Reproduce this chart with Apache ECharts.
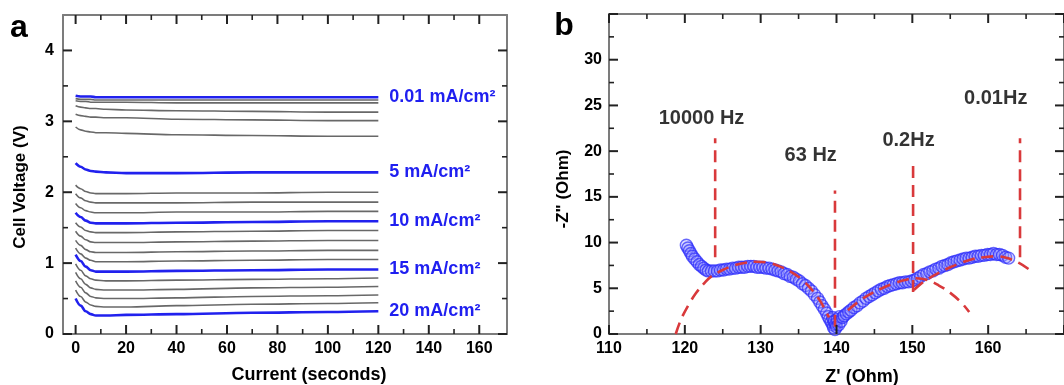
<!DOCTYPE html>
<html><head><meta charset="utf-8">
<script src="https://cdn.jsdelivr.net/npm/echarts@6/dist/echarts.min.js"></script>
<style>html,body{margin:0;padding:0;background:#fff}#c{width:1064px;height:385px}</style>
</head><body><div id="c"></div>
<script>
// ---------- Panel a data ----------
const timeS = [0, 2, 4, 6, 8, 12, 20, 40, 70, 100, 120];
const blue001 = [3.36, 3.35, 3.35, 3.35, 3.34, 3.34, 3.34, 3.34, 3.34, 3.34, 3.34];
const gray330 = [3.32, 3.31, 3.31, 3.31, 3.30, 3.30, 3.30, 3.30, 3.30, 3.30, 3.30];
const gray326 = [3.29, 3.28, 3.28, 3.27, 3.27, 3.27, 3.27, 3.26, 3.26, 3.26, 3.26];
const gray313 = [3.22, 3.20, 3.19, 3.18, 3.18, 3.17, 3.16, 3.15, 3.14, 3.13, 3.13];
const gray301 = [3.10, 3.08, 3.07, 3.06, 3.06, 3.05, 3.05, 3.03, 3.02, 3.01, 3.01];
const gray279 = [2.92, 2.88, 2.86, 2.85, 2.84, 2.84, 2.83, 2.81, 2.80, 2.79, 2.79];
const blue5   = [2.41, 2.36, 2.32, 2.30, 2.29, 2.28, 2.27, 2.27, 2.28, 2.28, 2.28];
const gray200 = [2.10, 2.05, 2.01, 1.99, 1.98, 1.98, 1.98, 1.99, 1.99, 2.00, 2.00];
const gray186 = [1.98, 1.92, 1.88, 1.86, 1.85, 1.85, 1.85, 1.85, 1.86, 1.86, 1.86];
const gray173 = [1.84, 1.78, 1.74, 1.72, 1.71, 1.71, 1.71, 1.72, 1.72, 1.73, 1.73];
const blue10  = [1.71, 1.65, 1.60, 1.57, 1.56, 1.56, 1.56, 1.57, 1.58, 1.59, 1.59];
const gray146 = [1.57, 1.51, 1.46, 1.44, 1.43, 1.43, 1.43, 1.44, 1.45, 1.46, 1.46];
const gray132 = [1.45, 1.38, 1.33, 1.30, 1.29, 1.29, 1.29, 1.30, 1.31, 1.32, 1.32];
const gray118 = [1.32, 1.25, 1.19, 1.16, 1.15, 1.15, 1.15, 1.16, 1.17, 1.18, 1.18];
const gray105 = [1.21, 1.13, 1.07, 1.04, 1.02, 1.02, 1.02, 1.03, 1.04, 1.05, 1.05];
const blue15  = [1.12, 1.03, 0.95, 0.90, 0.88, 0.88, 0.88, 0.89, 0.90, 0.91, 0.91];
const gray079 = [0.99, 0.90, 0.82, 0.78, 0.76, 0.75, 0.75, 0.76, 0.77, 0.78, 0.79];
const gray067 = [0.87, 0.78, 0.70, 0.65, 0.63, 0.62, 0.62, 0.63, 0.65, 0.66, 0.67];
const gray055 = [0.75, 0.66, 0.58, 0.53, 0.51, 0.50, 0.50, 0.51, 0.53, 0.54, 0.55];
const gray044 = [0.62, 0.53, 0.45, 0.41, 0.39, 0.38, 0.38, 0.40, 0.42, 0.43, 0.44];
const blue20  = [0.50, 0.40, 0.32, 0.28, 0.26, 0.26, 0.27, 0.28, 0.30, 0.31, 0.32];
const blueLabels = ['0.01 mA/cm²', '5 mA/cm²', '10 mA/cm²', '15 mA/cm²', '20 mA/cm²'];
const xMajorA = [0, 20, 40, 60, 80, 100, 120, 140, 160];
const xMinorA = [10, 30, 50, 70, 90, 110, 130, 150];
const yMajorA = [0, 1, 2, 3, 4];
const yMinorA = [0.5, 1.5, 2.5, 3.5];

// ---------- Panel b data ----------
const nyquist = [
  [120.2,9.7],[120.4,9.4],[120.6,9.1],[120.8,8.8],[121.0,8.5],[121.3,8.2],[121.6,7.9],[121.9,7.6],
  [122.2,7.4],[122.5,7.2],[122.8,7.0],[123.1,6.9],[123.5,6.9],[123.9,6.9],[124.3,6.9],[124.7,7.0],
  [125.1,7.0],[125.5,7.1],[125.9,7.1],[126.3,7.2],[126.7,7.2],[127.1,7.3],[127.5,7.3],[127.9,7.3],
  [128.3,7.4],[128.7,7.4],[129.1,7.4],[129.5,7.3],[129.9,7.3],[130.3,7.3],[130.7,7.2],[131.1,7.2],
  [131.5,7.1],[131.9,7.0],[132.3,6.9],[132.7,6.8],[133.1,6.6],[133.5,6.5],[133.9,6.3],[134.3,6.2],
  [134.7,6.0],[135.1,5.8],[135.5,5.5],[135.9,5.3],[136.3,5.0],[136.7,4.7],[137.1,4.3],[137.5,3.9],
  [137.8,3.5],[138.1,3.1],[138.4,2.7],[138.7,2.3],[138.9,1.9],[139.1,1.6],[139.3,1.3],[139.5,1.0],
  [139.6,0.7],[139.8,0.5],[139.5,1.8],[139.7,1.4],[139.9,1.1],[140.0,0.8],[140.1,1.6],[140.3,1.0],
  [140.4,1.9],[140.6,1.4],[140.8,1.8],[141.0,2.0],[141.3,2.2],[141.6,2.4],[141.9,2.6],[142.3,2.9],
  [142.7,3.1],[143.1,3.4],[143.5,3.6],[143.9,3.9],[144.3,4.1],[144.7,4.3],[145.1,4.5],[145.5,4.7],
  [145.9,4.9],[146.3,5.0],[146.7,5.2],[147.1,5.3],[147.5,5.4],[147.9,5.5],[148.3,5.6],[148.7,5.6],
  [149.1,5.7],[149.5,5.7],[149.9,5.8],[150.3,5.9],[150.7,6.1],[151.1,6.3],[151.5,6.5],[151.9,6.6],
  [152.3,6.8],[152.7,6.9],[153.1,7.1],[153.5,7.2],[153.9,7.4],[154.3,7.5],[154.7,7.6],[155.1,7.8],
  [155.5,7.9],[155.9,8.0],[156.3,8.1],[156.7,8.2],[157.1,8.3],[157.5,8.3],[157.9,8.4],[158.3,8.5],
  [158.7,8.5],[159.1,8.6],[159.5,8.6],[159.9,8.7],[160.3,8.7],[160.7,8.8],[161.1,8.7],[161.5,8.7],
  [161.9,8.6],[162.3,8.4],[162.7,8.3]
];
const fit1X = [118.8,119.5,120.5,121.5,122.5,123.5,125.0,126.5,128.0,129.5,131.0,132.5,134.0,135.5,137.0,138.0,139.0];
const fit1Y = [0.0,1.6,3.2,4.5,5.5,6.3,7.0,7.5,7.8,7.9,7.8,7.4,6.8,5.9,4.6,3.4,1.8];
const fit2X = [141.5,143.0,144.5,146.0,147.5,149.0,150.5,152.0,153.5,155.0,156.5,157.5];
const fit2Y = [2.6,3.6,4.4,5.0,5.5,5.9,6.1,5.9,5.3,4.5,3.4,2.4];
const fit3X = [150.2,151.0,152.0,153.5,155.0,156.5,158.0,159.5,161.0,162.5,164.0,165.5];
const fit3Y = [4.8,5.4,6.0,6.7,7.3,7.8,8.2,8.4,8.5,8.3,7.8,7.0];
const markerX = [124.0, 139.8, 150.1, 164.2];
const markerLow = [8.4, 0.8, 4.6, 8.4];
const markerHigh = [21.4, 15.7, 19.0, 21.4];
const freqLabels = ['10000 Hz', '63 Hz', '0.2Hz', '0.01Hz'];
const freqLabelX = [122.2, 136.6, 149.5, 161.0];
const freqLabelY = [23.6, 19.5, 21.2, 25.8];
const xMajorB = [110, 120, 130, 140, 150, 160, 170];
const xMinorB = [115, 125, 135, 145, 155, 165];
const yMajorB = [0, 5, 10, 15, 20, 25, 30, 35];
const yMinorB = [2.5, 7.5, 12.5, 17.5, 22.5, 27.5, 32.5];

// ---------- build ----------
const FONT = "'Liberation Sans', Arial, Helvetica, sans-serif";
const frameColor = '#7c7c7c';
const tickColor = '#222222';
const lineOn = {show: true, onZero: false, lineStyle: {color: frameColor, width: 2}};
const lineOff = {show: false, onZero: false};
const noTick = {show: false};
const noLabel = {show: false};
const lab = (margin) => ({show: true, margin: margin, fontSize: 16, fontWeight: 'bold', color: '#000',
  fontFamily: FONT, showMaxLabel: false});
const ax = (o) => Object.assign({type: 'value', splitLine: {show: false}, minorSplitLine: {show: false},
  axisTick: noTick, minorTick: {show: false}}, o);

const xAxes = [
  ax({gridIndex: 0, min: -5, max: 171, position: 'bottom', axisLine: lineOn, axisLabel: noLabel}),
  ax({gridIndex: 0, min: -5, max: 171, position: 'top', axisLine: lineOn, axisLabel: noLabel}),
  ax({gridIndex: 1, min: 0, max: 170, interval: 20, position: 'bottom', axisLine: lineOff, axisLabel: lab(7)}),
  ax({gridIndex: 2, min: 110, max: 170, interval: 10, position: 'bottom', axisLine: lineOn, axisLabel: lab(7)}),
  ax({gridIndex: 2, min: 110, max: 170, interval: 10, position: 'top', axisLine: lineOn, axisLabel: noLabel})
];
const yAxes = [
  ax({gridIndex: 0, min: 0, max: 4.5, interval: 1, position: 'left', axisLine: lineOn, axisLabel: lab(9)}),
  ax({gridIndex: 0, min: 0, max: 4.5, interval: 1, position: 'right', axisLine: lineOn, axisLabel: noLabel}),
  ax({gridIndex: 1, min: 0, max: 4.5, show: false}),
  ax({gridIndex: 2, min: 0, max: 35, interval: 5, position: 'left', axisLine: lineOn, axisLabel: lab(7)}),
  ax({gridIndex: 2, min: 0, max: 35, interval: 5, position: 'right', axisLine: lineOn, axisLabel: noLabel})
];

const zip = (xs, ys) => xs.map((x, i) => [x, ys[i]]);
const series = [];
const grays = [gray330, gray326, gray313, gray301, gray279, gray200, gray186, gray173,
  gray146, gray132, gray118, gray105, gray079, gray067, gray055, gray044];
grays.forEach(g => series.push({
  type: 'line', xAxisIndex: 0, yAxisIndex: 0, data: zip(timeS, g), showSymbol: false,
  smooth: 0.35, smoothMonotone: 'x', lineStyle: {color: '#686868', width: 1.6}, z: 2, silent: true
}));
[blue001, blue5, blue10, blue15, blue20].forEach((b, i) => series.push({
  type: 'line', xAxisIndex: 0, yAxisIndex: 0, data: zip(timeS, b), showSymbol: false,
  smooth: 0.35, smoothMonotone: 'x', lineStyle: {color: '#2121ee', width: 2.6}, z: 3, silent: true,
  endLabel: {show: true, formatter: blueLabels[i], distance: 11, color: '#1f1ff0', fontSize: 18,
    fontWeight: 'bold', fontFamily: FONT}
}));

const redLine = {color: '#d9393b', width: 2.6, type: [12, 7]};
series.push({
  type: 'scatter', xAxisIndex: 3, yAxisIndex: 3, data: nyquist, symbol: 'circle', symbolSize: 12,
  itemStyle: {color: 'rgba(140,140,255,0.35)', borderColor: 'rgba(40,40,250,0.85)', borderWidth: 1.4}, z: 2, silent: true
});
[[fit1X, fit1Y], [fit2X, fit2Y], [fit3X, fit3Y]].forEach(f => series.push({
  type: 'line', xAxisIndex: 3, yAxisIndex: 3, data: zip(f[0], f[1]), showSymbol: false, smooth: 0.4,
  lineStyle: redLine, z: 4, silent: true
}));
markerX.forEach((x, i) => series.push({
  type: 'line', xAxisIndex: 3, yAxisIndex: 3, data: [[x, markerLow[i]], [x, markerHigh[i]]], showSymbol: false,
  lineStyle: redLine, z: 4, silent: true
}));
series.push({
  type: 'scatter', xAxisIndex: 3, yAxisIndex: 3, symbolSize: 1, itemStyle: {color: 'rgba(0,0,0,0)'}, silent: true,
  data: freqLabels.map((n, i) => ({name: n, value: [freqLabelX[i], freqLabelY[i]]})),
  label: {show: true, position: 'inside', formatter: p => p.name, color: '#000', fontSize: 20, fontWeight: 'bold', fontFamily: FONT}
});

// inward frame ticks, placed through the axes' own scales (api.coord)
function tickSeries(xi, yi, xr, yr, xMaj, xMin, yMaj, yMin) {
  const data = [];
  xMaj.forEach(v => data.push([v, yr[0], 9, 0]));
  xMin.forEach(v => data.push([v, yr[0], 5, 0]));
  yMaj.forEach(v => data.push([xr[0], v, 9, 1]));
  yMin.forEach(v => data.push([xr[0], v, 5, 1]));
  return {
    type: 'custom', xAxisIndex: xi, yAxisIndex: yi, data: data, silent: true, z: 10, clip: false,
    renderItem: function (params, api) {
      const len = api.value(2), kind = api.value(3);
      const st = {stroke: tickColor, lineWidth: len > 6 ? 2 : 1.6, fill: null};
      if (kind === 0) {
        const v = api.value(0);
        const b = api.coord([v, yr[0]]), t = api.coord([v, yr[1]]);
        return {type: 'group', children: [
          {type: 'line', shape: {x1: b[0], y1: b[1], x2: b[0], y2: b[1] - len}, style: st},
          {type: 'line', shape: {x1: t[0], y1: t[1], x2: t[0], y2: t[1] + len}, style: st}
        ]};
      }
      const v = api.value(1);
      const l = api.coord([xr[0], v]), r = api.coord([xr[1], v]);
      return {type: 'group', children: [
        {type: 'line', shape: {x1: l[0], y1: l[1], x2: l[0] + len, y2: l[1]}, style: st},
        {type: 'line', shape: {x1: r[0], y1: r[1], x2: r[0] - len, y2: r[1]}, style: st}
      ]};
    }
  };
}
series.push(tickSeries(0, 0, [-5, 171], [0, 4.5], xMajorA, xMinorA, yMajorA, yMinorA));
series.push(tickSeries(3, 3, [110, 170], [0, 35], xMajorB, xMinorB, yMajorB, yMinorB));

const txt = (x, y, text, size, rot) => ({
  type: 'text', x: x, y: y, rotation: rot || 0,
  style: {text: text, fill: '#000', font: 'bold ' + size + 'px ' + FONT, align: 'center', verticalAlign: 'middle'}
});

const chart = echarts.init(document.getElementById('c'), null, {renderer: 'canvas'});
chart.setOption({
  animation: false,
  backgroundColor: '#fff',
  grid: [
    {left: 63, top: 15, width: 444, height: 319},
    {left: 63 + 5 * 444 / 176, top: 15, width: 170 * 444 / 176, height: 319},
    {left: 609, top: 14, width: 463, height: 320}
  ],
  xAxis: xAxes,
  yAxis: yAxes,
  series: series,
  graphic: [
    txt(19, 28, 'a', 32),
    txt(564, 26, 'b', 32),
    txt(20, 187, 'Cell Voltage (V)', 17, Math.PI / 2),
    txt(309, 375, 'Current (seconds)', 18),
    txt(563, 189, '-Z" (Ohm)', 17, Math.PI / 2),
    txt(862, 377, "Z' (Ohm)", 18)
  ]
});
</script>
</body></html>
